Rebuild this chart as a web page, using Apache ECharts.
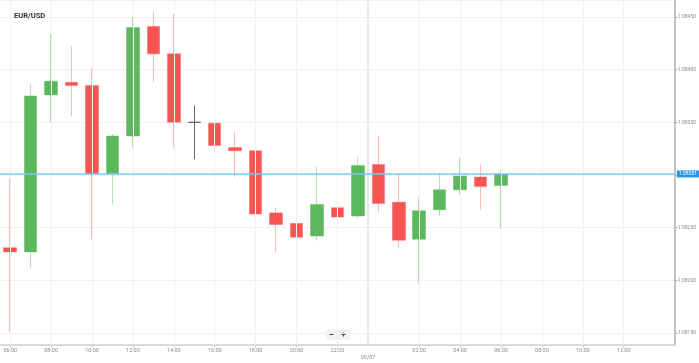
<!DOCTYPE html>
<html><head><meta charset="utf-8">
<script src="https://cdn.jsdelivr.net/npm/echarts@6/dist/echarts.min.js"></script>
<style>html,body{margin:0;padding:0;background:#fff}#c{width:699px;height:363px}</style>
</head><body><div id="c"></div>
<script>
var categories = ['06:00','07:00','08:00','09:00','10:00','11:00','12:00','13:00','14:00','15:00','16:00','17:00','18:00','19:00','20:00','21:00','22:00','23:00','00:00','01:00','02:00','03:00','04:00','05:00','06:00 ','07:00 ','08:00 ','09:00 ','10:00 ','11:00 ','12:00 ','13:00 ','14:00 '];
var dayLabel = '09/07';
var dayBoundary = 17.5; // between 23:00 and 00:00 bands
var openVals  = [1.08231,1.08227,1.08376,1.08388,1.08385,1.08301,1.08337,1.08441,1.08415,1.08350,1.08349,1.08326,1.08323,1.08264,1.08254,1.08242,1.08269,1.08261,1.08310,1.08274,1.08239,1.08267,1.08286,1.08298,1.08290];
var closeVals = [1.08227,1.08375,1.08389,1.08385,1.08301,1.08337,1.08440,1.08415,1.08350,1.08350,1.08328,1.08323,1.08263,1.08253,1.08241,1.08272,1.08260,1.08309,1.08273,1.08238,1.08266,1.08286,1.08299,1.08289,1.08301];
var lowVals   = [1.08151,1.08212,1.08350,1.08356,1.08239,1.08272,1.08326,1.08388,1.08326,1.08315,1.08288,1.08298,1.08238,1.08227,1.08231,1.08238,1.08245,1.08259,1.08264,1.08230,1.08196,1.08261,1.08281,1.08267,1.08249];
var highVals  = [1.08297,1.08386,1.08434,1.08422,1.08401,1.08339,1.08450,1.08455,1.08453,1.08366,1.08366,1.08341,1.08323,1.08269,1.08254,1.08308,1.08276,1.08317,1.08337,1.08301,1.08279,1.08302,1.08317,1.08310,1.08305];
var currentPrice = 1.08301;
var yMin = 1.081386, yMax = 1.084661;

var candleData = openVals.map(function(o,i){ return [o, closeVals[i], lowVals[i], highVals[i]]; });
var xLo = -0.5, xHi = categories.length - 0.5;
function showIdx(i){ return i % 2 === 0 && i < 32 && i !== 18; }
var guideLines = [];
categories.forEach(function(c,i){
  if (showIdx(i)) guideLines.push([{coord:[i, yMin], lineStyle:{color:'#f1f1f1', width:1, type:'solid'}, label:{show:false}}, {coord:[i, yMax]}]);
});
guideLines.push([{coord:[dayBoundary, yMin], lineStyle:{color:'#e0e0e0', width:1.5, type:'solid'},
  label:{show:true, position:'start', distance:10, formatter:dayLabel, color:'#8a8a8a', fontSize:5.5, fontFamily:'Roboto'}},
  {coord:[dayBoundary, yMax]}]);
guideLines.push([{coord:[xLo, currentPrice], lineStyle:{color:'#7cc6f7', width:1.5, type:'solid'},
  label:{show:true, position:'end', distance:2, formatter:currentPrice.toFixed(5), color:'#fff', backgroundColor:'#2196f3', fontSize:5, padding:[1,2,1,2], fontFamily:'Roboto'}},
  {coord:[xHi, currentPrice]}]);

var chart = echarts.init(document.getElementById('c'), null, {renderer:'canvas'});
chart.setOption({
  animation:false,
  backgroundColor:'#fff',
  title:{text:'EUR/USD', left:9, top:7, textStyle:{fontSize:7.5, fontWeight:'bold', color:'#333', fontFamily:'Roboto'}},
  grid:{left:0, right:23, top:0, bottom:18, containLabel:false},
  xAxis:[{type:'category', data:categories, boundaryGap:true,
    axisLine:{show:true, onZero:false, lineStyle:{color:'#cfcfcf', width:1.5}},
    axisTick:{show:true, alignWithLabel:true, interval:function(i){return showIdx(i);}, length:3, lineStyle:{color:'#cfcfcf'}},
    axisLabel:{interval:function(i){return showIdx(i);}, margin:3, fontSize:5.5, color:'#8a8a8a', fontFamily:'Roboto',
      formatter:function(v){ return v.trim(); }},
    splitLine:{show:false}},
   {type:'value', min:xLo, max:xHi, show:false, axisLine:{onZero:false}, splitLine:{show:false}}],
  yAxis:{type:'value', position:'right', min:yMin, max:yMax, splitNumber:6, minInterval:0.0005, maxInterval:0.0005, scale:true,
    axisLine:{show:true, onZero:false, lineStyle:{color:'#b0b0b0', width:1.5}},
    axisTick:{show:true, length:3, lineStyle:{color:'#b0b0b0'}},
    axisLabel:{margin:3, fontSize:5, color:'#8a8a8a', fontFamily:'Roboto', showMinLabel:false, showMaxLabel:false,
      formatter:function(v){return v.toFixed(5);}},
    splitLine:{show:true, lineStyle:{color:'#f1f1f1', width:1}}},
  series:[
   {type:'line', xAxisIndex:1, data:[], silent:true, z:1,
    markLine:{silent:true, symbol:['none','none'], animation:false, data:guideLines}},
   {type:'candlestick', xAxisIndex:0, data:candleData, barWidth:13, z:3,
    itemStyle:{color:'#5cb85c', color0:'#f75454', borderColor:'rgba(92,184,92,0.45)', borderColor0:'rgba(247,84,84,0.4)', borderColorDoji:'#666', borderWidth:1}}
  ],
  graphic:[
    {type:'rect', left:326, top:330, shape:{width:11, height:9, r:1}, style:{fill:'#f3f3f3', stroke:'#e0e0e0', lineWidth:0.5}},
    {type:'rect', left:338, top:330, shape:{width:11, height:9, r:1}, style:{fill:'#f3f3f3', stroke:'#e0e0e0', lineWidth:0.5}},
    {type:'line', shape:{x1:329.5, y1:334.5, x2:333.5, y2:334.5}, style:{stroke:'#444', lineWidth:1}},
    {type:'line', shape:{x1:341.5, y1:334.5, x2:345.5, y2:334.5}, style:{stroke:'#444', lineWidth:1}},
    {type:'line', shape:{x1:343.5, y1:332.5, x2:343.5, y2:336.5}, style:{stroke:'#444', lineWidth:1}}
  ]
});
</script></body></html>
